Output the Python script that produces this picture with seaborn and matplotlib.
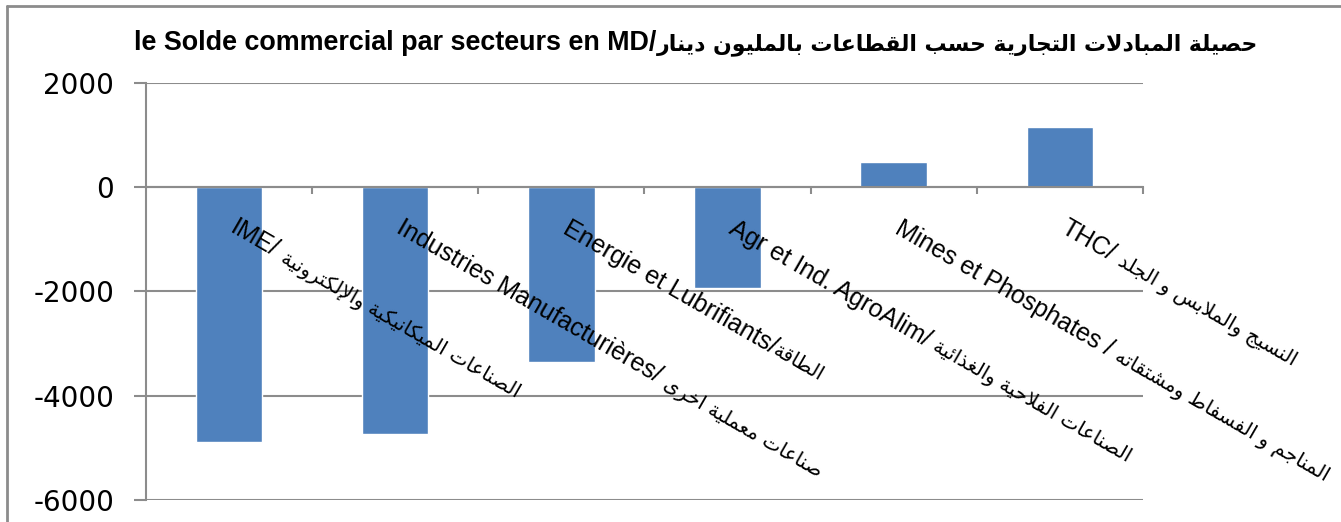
import matplotlib
matplotlib.use("Agg")
import matplotlib.pyplot as plt
import seaborn as sns
import numpy as np
from matplotlib.lines import Line2D

# %%
# Data (million dinars)
latin_parts = ["IME/ ", "Industries Manufacturières/ ", "Energie et Lubrifiants/",
               "Agr et Ind. AgroAlim/ ", "Mines et Phosphates / ", "THC/ "]
arabic_parts = ["الصناعات الميكانيكية والإلكترونية", "صناعات معملية اخرى", "الطاقة",
                "الصناعات الفلاحية والغذائية", "المناجم و الفسفاط ومشتقاته", "النسيج والملابس و الجلد"]
balance = [-4880, -4730, -3350, -1940, 480, 1150]
yticks = [-6000, -4000, -2000, 0, 2000]
title_fr = "le Solde commercial par secteurs en MD/"
title_ar = "حصيلة المبادلات التجارية حسب القطاعات بالمليون دينار"

# %%
# matplotlib has no arabic shaping, so map letters to presentation forms and reverse
RIGHT = {'آ': 0xFE81, 'أ': 0xFE83, 'ؤ': 0xFE85, 'إ': 0xFE87, 'ا': 0xFE8D, 'ة': 0xFE93,
         'د': 0xFEA9, 'ذ': 0xFEAB, 'ر': 0xFEAD, 'ز': 0xFEAF, 'و': 0xFEED, 'ى': 0xFEEF}
DUAL = {'ئ': 0xFE89, 'ب': 0xFE8F, 'ت': 0xFE95, 'ث': 0xFE99, 'ج': 0xFE9D, 'ح': 0xFEA1,
        'خ': 0xFEA5, 'س': 0xFEB1, 'ش': 0xFEB5, 'ص': 0xFEB9, 'ض': 0xFEBD, 'ط': 0xFEC1,
        'ظ': 0xFEC5, 'ع': 0xFEC9, 'غ': 0xFECD, 'ف': 0xFED1, 'ق': 0xFED5, 'ك': 0xFED9,
        'ل': 0xFEDD, 'م': 0xFEE1, 'ن': 0xFEE5, 'ه': 0xFEE9, 'ي': 0xFEF1}
LAM_ALEF = {'آ': 0xFEF5, 'أ': 0xFEF7, 'إ': 0xFEF9, 'ا': 0xFEFB}


def shape(text):
    out = []
    i = 0
    while i < len(text):
        c = text[i]
        prev = text[i - 1] if i > 0 else ''
        nxt = text[i + 1] if i + 1 < len(text) else ''
        jp = int(prev in DUAL)
        if c == 'ل' and nxt in LAM_ALEF:
            out.append(chr(LAM_ALEF[nxt] + jp))
            i += 2
            continue
        if c in DUAL:
            jn = int(nxt in DUAL or nxt in RIGHT)
            out.append(chr(DUAL[c] + jp + 2 * jn))
        elif c in RIGHT:
            out.append(chr(RIGHT[c] + jp))
        else:
            out.append(c)
        i += 1
    return ''.join(reversed(out))


# %%
sns.set_style("white")
plt.rcParams['font.family'] = ['DejaVu Sans']
plt.rcParams['text.color'] = 'black'
plt.rcParams['ytick.labelcolor'] = 'black'

fig = plt.figure(figsize=(13.41, 5.22), dpi=100)
ax = fig.add_axes([0.1089, 0.0421, 0.7434, 0.799])
renderer = fig.canvas.get_renderer()


def text_width(s, **kw):
    t = fig.text(0, 0, s, **kw)
    w = t.get_window_extent(renderer).width
    t.remove()
    return w


cats = [str(i) for i in range(len(balance))]
sns.barplot(x=cats, y=balance, color="#4F81BD", width=0.4, saturation=1, ax=ax)

grey = "#8c8c8c"
ax.set_ylim(-6000, 2000)
ax.set_xlim(-0.5, len(balance) - 0.5)
ax.set_yticks(yticks)
ax.set_yticklabels([str(v) for v in yticks], fontsize=20, color='black')
ax.yaxis.grid(True, color=grey, lw=1.5)
ax.set_axisbelow(True)
ax.tick_params(axis='y', direction='out', length=9, width=1.5, color=grey, pad=14, left=True)

for s in ['top', 'right']:
    ax.spines[s].set_visible(False)
ax.spines['left'].set_color(grey)
ax.spines['left'].set_linewidth(1.5)
ax.spines['bottom'].set_position(('data', 0))
ax.spines['bottom'].set_color(grey)
ax.spines['bottom'].set_linewidth(1.5)

ax.set_xticks(np.arange(len(balance)))
ax.set_xticklabels([])
ax.set_xticks(np.arange(len(balance)) + 0.5, minor=True)
ax.tick_params(axis='x', which='major', length=0)
ax.tick_params(axis='x', which='minor', direction='out', length=5, width=1.5, color=grey, bottom=True)
ax.set_xlabel('')
ax.set_ylabel('')

# category labels: latin part then arabic part, along a -30 degree baseline
lat_kw = dict(fontsize=18, color='black', family=['Liberation Sans', 'DejaVu Sans'])
ar_kw = dict(fontsize=14.5, color='black', family=['DejaVu Sans'])
ang = np.deg2rad(30)
drop = 45
space = text_width('a a', **lat_kw) - text_width('aa', **lat_kw)
for i, (lat, ar) in enumerate(zip(latin_parts, arabic_parts)):
    lat_s = lat.rstrip()
    w = text_width(lat_s, **lat_kw) + (space if lat.endswith(' ') else 0)
    common = dict(xy=(i, 0), xycoords='data', textcoords='offset pixels', rotation=-30,
                  ha='left', va='baseline', rotation_mode='anchor', annotation_clip=False, zorder=5)
    ax.annotate(lat_s, xytext=(0, -drop), **common, **lat_kw)
    ax.annotate(shape(ar), xytext=(w * np.cos(ang), -drop - w * np.sin(ang)), **common, **ar_kw)

# title: french part then arabic part, centred as a whole
tfr_kw = dict(fontsize=19.4, fontweight='bold', color='black', family=['Liberation Sans', 'DejaVu Sans'])
tar_kw = dict(fontsize=15.8, fontweight='bold', color='black', family=['DejaVu Sans'])
w_fr = text_width(title_fr, **tfr_kw)
w_ar = text_width(shape(title_ar), **tar_kw)
x0 = 696 - (w_fr + w_ar) / 2
ty = 522 - 50
fig.text(x0 / 1341, ty / 522, title_fr, ha='left', va='baseline', **tfr_kw)
fig.text((x0 + w_fr) / 1341, ty / 522, shape(title_ar), ha='left', va='baseline', **tar_kw)

# chart frame
fig.add_artist(Line2D([7 / 1341, 7 / 1341], [0, 1 - 6 / 522], color=grey, lw=2, transform=fig.transFigure))
fig.add_artist(Line2D([7 / 1341, 1], [1 - 6 / 522, 1 - 6 / 522], color=grey, lw=2, transform=fig.transFigure))

plt.savefig('out.png', dpi=100)
